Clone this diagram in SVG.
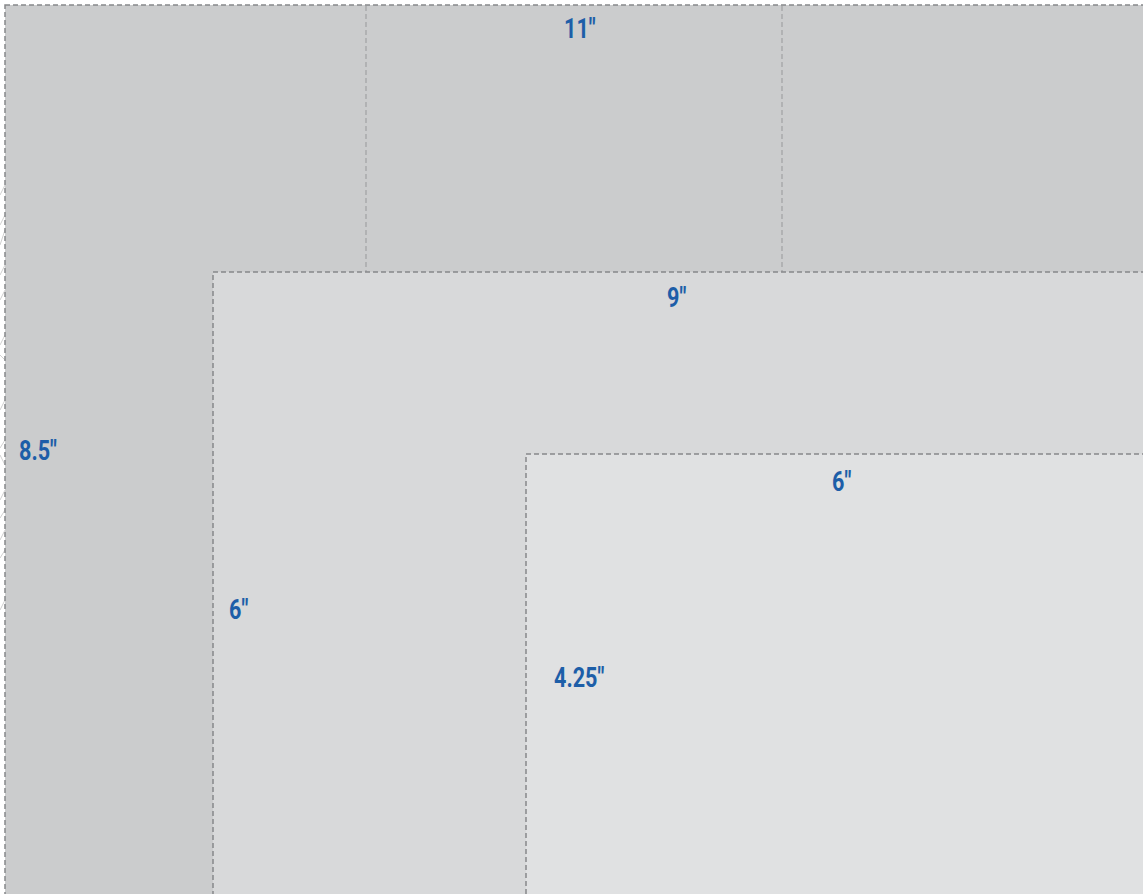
<svg xmlns="http://www.w3.org/2000/svg" width="1143" height="894" viewBox="0 0 1143 894">
<style>
.sheet{stroke:#87888a;stroke-width:1.5;stroke-dasharray:5,3}
.fold{stroke:#a4a5a6;stroke-width:1.3;stroke-dasharray:5,3;fill:none}
.lbl{font-family:Roboto,"Liberation Sans",sans-serif;font-weight:bold;font-size:27px;fill:#1d5ea8}
.ghost{fill:none;stroke:#d0d0d0;stroke-width:1}
</style>
<rect width="1143" height="894" fill="#ffffff"/>
<g id="ghost-art">
<path class="ghost" d="M5,185 L0,195 M5,215 L0,225 M5,230 L0,245 M5,265 L0,275 M5,290 L0,300 M5,335 L0,345 M5,360 L0,355 M5,400 L0,410 M5,440 L0,448 M5,465 L0,455 M5,490 L0,500 M5,510 L0,518 M5,530 L0,540 M5,550 L0,558 M5,600 L0,610"/>
</g>
<g id="sheet-11x8.5">
<rect class="sheet" x="5" y="5" width="1160" height="910" fill="#cbcccd"/>
<text class="lbl" transform="translate(564,38) scale(0.8,1)">11″</text>
<text class="lbl" transform="translate(19,460) scale(0.8,1)">8.5″</text>
</g>
<g id="folds">
<line class="fold" x1="366" y1="6" x2="366" y2="272"/>
<line class="fold" x1="782" y1="6" x2="782" y2="272"/>
</g>
<g id="sheet-9x6">
<rect class="sheet" x="213" y="272" width="960" height="640" fill="#d8d9da"/>
<text class="lbl" transform="translate(667,307) scale(0.8,1)">9″</text>
<text class="lbl" transform="translate(229,619) scale(0.8,1)">6″</text>
</g>
<g id="sheet-6x4.25">
<rect class="sheet" x="526" y="454" width="640" height="460" fill="#e0e1e2"/>
<text class="lbl" transform="translate(832,491) scale(0.8,1)">6″</text>
<text class="lbl" transform="translate(554,687) scale(0.8,1)">4.25″</text>
</g>
</svg>
